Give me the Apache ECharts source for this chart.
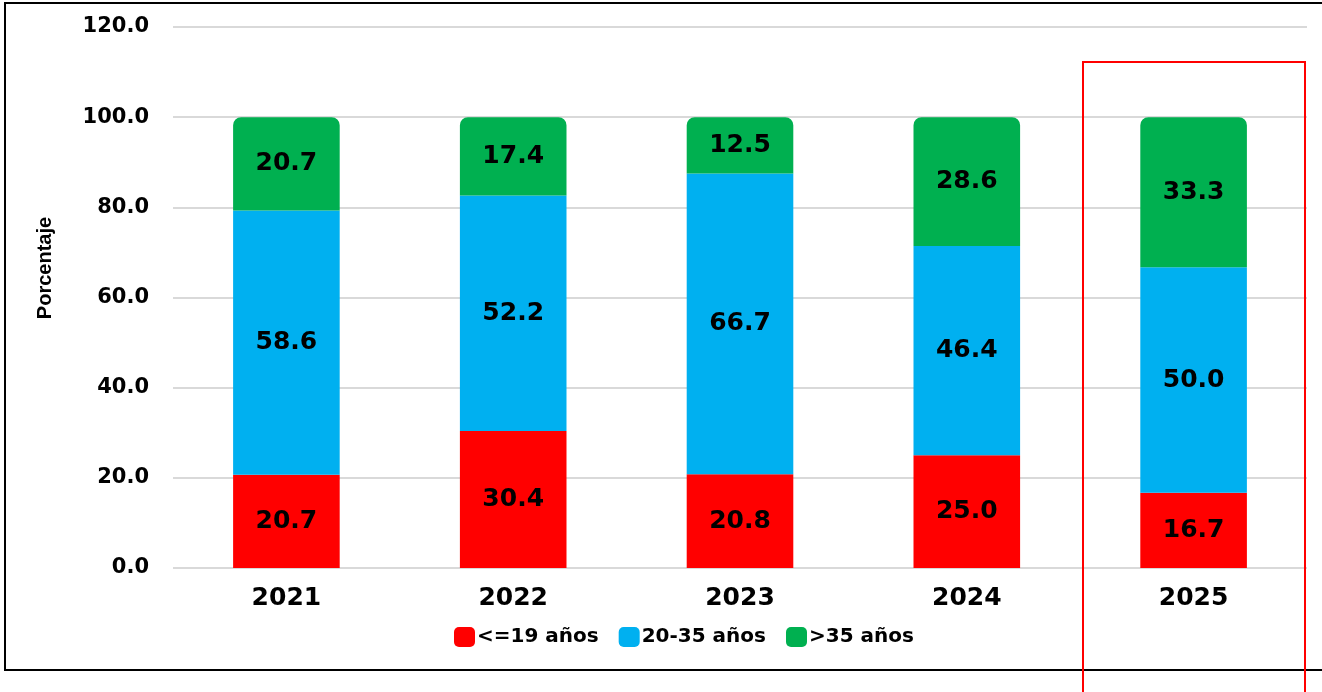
<!DOCTYPE html>
<html><head><meta charset="utf-8">
<script src="https://cdn.jsdelivr.net/npm/echarts@6/dist/echarts.min.js"></script>
<style>html,body{margin:0;padding:0;background:#fff}#c{width:1322px;height:692px}</style>
</head><body><div id="c"></div>
<script>
const categories = ['2021','2022','2023','2024','2025'];
const seriesNames = ['<=19 años','20-35 años','>35 años'];
const young = [20.7, 30.4, 20.8, 25.0, 16.7];
const mid = [58.6, 52.2, 66.7, 46.4, 50.0];
const old = [20.7, 17.4, 12.5, 28.6, 33.3];
const yTicks = [0, 20, 40, 60, 80, 100, 120];
const colors = ['#FF0000', '#00B0F0', '#00B050'];

const chart = echarts.init(document.getElementById('c'));
const font = '"DejaVu Sans", Arial, sans-serif';
const lbl = {show:true, position:'inside', color:'#000', fontSize:25, fontWeight:'bold', fontFamily:font, formatter: p => p.value.toFixed(1)};
chart.setOption({
  animation:false,
  grid:{left:173, right:15, top:27, bottom:124},
  legend:{top:622, left:449, itemWidth:21, itemHeight:20, itemGap:20,
    textStyle:{fontSize:20, fontWeight:'bold', fontFamily:font, color:'#000', padding:[0,0,0,-3]},
    data: seriesNames.map((n,i)=>({name:n, icon:'roundRect'}))},
  xAxis:{type:'category', data:categories, axisLine:{show:false}, axisTick:{show:false},
    axisLabel:{fontSize:25, fontWeight:'bold', fontFamily:font, color:'#000', margin:18}},
  yAxis:{type:'value', min:0, max:120, interval:20,
    axisLabel:{fontSize:21, fontWeight:'bold', fontFamily:font, color:'#000', margin:24, formatter:v=>v.toFixed(1)},
    splitLine:{lineStyle:{color:'#d9d9d9', width:2}}},
  color: colors,
  series:[
    {name:seriesNames[0], type:'bar', stack:'t', data:young, barWidth:'47%', label:lbl, itemStyle:{color:colors[0]}},
    {name:seriesNames[1], type:'bar', stack:'t', data:mid, label:lbl, itemStyle:{color:colors[1]}},
    {name:seriesNames[2], type:'bar', stack:'t', data:old, label:lbl, itemStyle:{color:colors[2], borderRadius:[8,8,0,0]}}
  ],
  graphic:[
    {type:'rect', shape:{x:5, y:3, width:1330, height:667}, style:{fill:null, stroke:'#000', lineWidth:2}, z:-1},
    {type:'rect', shape:{x:1083, y:62, width:222, height:660}, style:{fill:null, stroke:'#FF0000', lineWidth:2}, z:100},
    {type:'text', x:45, y:268, rotation:Math.PI/2, style:{text:'Porcentaje', x:0, y:0, align:'center', verticalAlign:'middle',
      font:'bold 20px "Liberation Sans", Arial, sans-serif', fill:'#000'}}
  ]
});
</script></body></html>
